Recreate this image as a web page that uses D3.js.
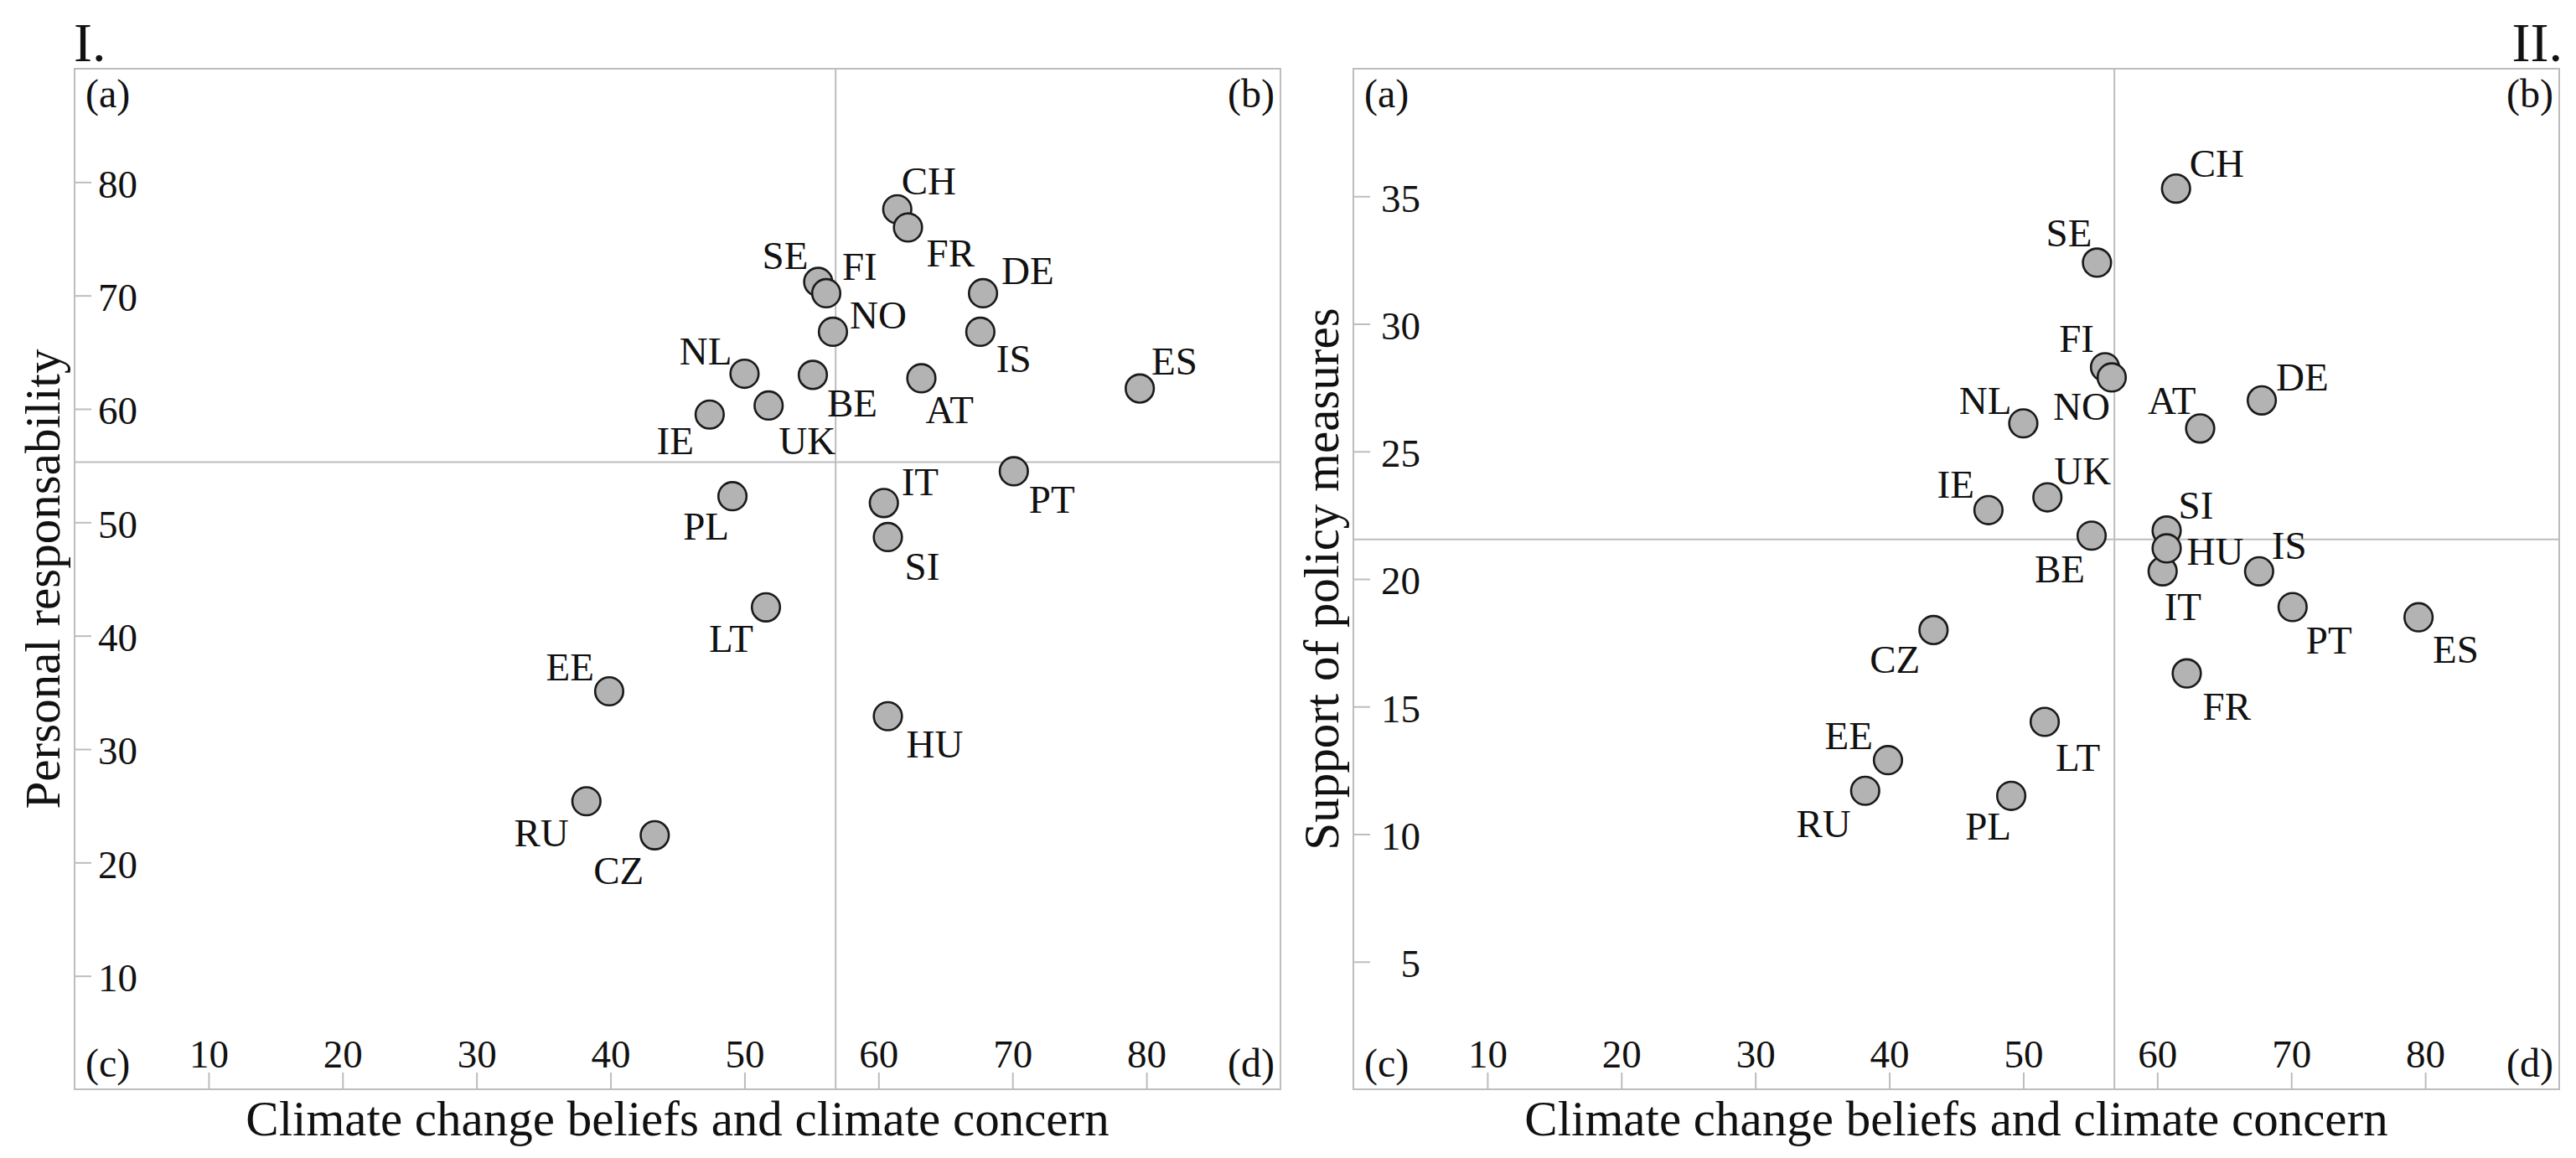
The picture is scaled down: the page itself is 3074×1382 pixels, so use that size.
<!DOCTYPE html>
<html>
<head>
<meta charset="utf-8">
<script src="https://cdn.jsdelivr.net/npm/d3@7"></script>
<style>
  body { margin: 0; background: #ffffff; }
  text { font-family: "Liberation Serif", "Times New Roman", Times, serif; fill: #111; }
</style>
</head>
<body>
<svg id="chart" width="3074" height="1382"></svg>
<script>
// ---------------- DATA ----------------
const countries = ["CH","FR","SE","FI","DE","NO","IS","NL","BE","AT","ES","UK","IE","PT","PL","IT","SI","LT","EE","HU","RU","CZ"];
const climateConcern = [61.4,62.2,55.5,56.1,67.8,56.6,67.6,50.0,55.1,63.2,79.5,51.8,47.4,70.1,49.1,60.4,60.7,51.6,39.9,60.7,38.2,43.3];
const personalResponsibility = [77.6,76.0,71.2,70.2,70.2,66.8,66.8,63.1,63.0,62.7,61.8,60.3,59.5,54.5,52.3,51.7,48.7,42.5,35.1,32.9,25.4,22.4];
const policySupport = [35.3,16.3,32.4,28.3,27.0,27.9,20.3,26.1,21.7,25.9,18.5,23.2,22.7,18.9,11.5,20.3,21.9,14.4,12.9,21.2,11.7,18.0];

const xTicks = [10,20,30,40,50,60,70,80];
const yTicksI = [10,20,30,40,50,60,70,80];
const yTicksII = [5,10,15,20,25,30,35];

const xMean = 56.8;          // vertical divider (climate concern)
const yMeanI = 55.3;         // horizontal divider panel I
const yMeanII = 21.55;       // horizontal divider panel II

const xTitle = "Climate change beliefs and climate concern";
const yTitleI = "Personal responsability";
const yTitleII = "Support of policy measures";
const panelNames = ["I.", "II."];
const quadrantLabels = ["(a)", "(b)", "(c)", "(d)"];

// label placement (layout only): [dx, dy(baseline), anchor]
const labelPlaceI = {
  CH:[5,-18,"start"], FR:[22,47,"start"], SE:[-12,-15,"end"], FI:[19,-16,"start"], DE:[22,-11,"start"],
  NO:[20,-4,"start"], IS:[19,48,"start"], NL:[-15,-11,"end"], BE:[17,50,"start"], AT:[5,54,"start"],
  ES:[14,-17,"start"], UK:[12,58,"start"], IE:[-19,47,"end"], PT:[18,50,"start"], PL:[-4,52,"end"],
  IT:[21,-9,"start"], SI:[20,51,"start"], LT:[-15,53,"end"], EE:[-18,-13,"end"], HU:[22,49,"start"],
  RU:[-21,54,"end"], CZ:[-13,58,"end"]
};
const labelPlaceII = {
  CH:[16,-14,"start"], SE:[-6,-19,"end"], FI:[-13,-18,"end"], NO:[-2,51,"end"], NL:[-14,-11,"end"],
  AT:[-5,-17,"end"], DE:[17,-12,"start"], UK:[8,-16,"start"], IE:[-17,-15,"end"], BE:[-8,56,"end"],
  SI:[14,-14,"start"], HU:[24,20,"start"], IS:[15,-15,"start"], IT:[2,58,"start"], PT:[16,56,"start"],
  ES:[17,54,"start"], CZ:[-16,51,"end"], FR:[19,55,"start"], LT:[13,58,"start"], EE:[-18,-13,"end"],
  RU:[-17,55,"end"], PL:[0,52,"end"]
};

// ---------------- DRAW ----------------
const svg = d3.select("#chart");
svg.append("rect").attr("width", 3074).attr("height", 1382).attr("fill", "#fff");

const gridColor = "#bdbdbd";

function drawPanel(cfg) {
  const { left, right, top, bottom, yVals, yDomain, yTicks, yMean, yTitle, name, nameAnchor, labelPlace, yLabelEnd } = cfg;
  const x = d3.scaleLinear().domain([0, 90]).range([left, right]);
  const y = d3.scaleLinear().domain(yDomain).range([bottom, top]);
  const g = svg.append("g");

  // frame
  g.append("rect").attr("x", left).attr("y", top).attr("width", right - left).attr("height", bottom - top)
    .attr("fill", "none").attr("stroke", gridColor).attr("stroke-width", 2);

  // dividers
  g.append("line").attr("x1", x(xMean)).attr("x2", x(xMean)).attr("y1", top).attr("y2", bottom)
    .attr("stroke", gridColor).attr("stroke-width", 2);
  g.append("line").attr("x1", left).attr("x2", right).attr("y1", y(yMean)).attr("y2", y(yMean))
    .attr("stroke", gridColor).attr("stroke-width", 2);

  // x axis (inside, ticks upward)
  const xa = g.append("g").attr("transform", `translate(0,${bottom})`)
    .call(d3.axisTop(x).tickValues(xTicks).tickSize(20).tickPadding(6).tickFormat(d3.format("d")));
  xa.select(".domain").remove();
  xa.selectAll(".tick line").attr("stroke", gridColor).attr("stroke-width", 2);
  xa.selectAll(".tick text").attr("font-size", 47).attr("fill", "#111")
    .style("font-family", '"Liberation Serif", "Times New Roman", serif');

  // y axis (inside, ticks rightward)
  const ya = g.append("g").attr("transform", `translate(${left},0)`)
    .call(d3.axisRight(y).tickValues(yTicks).tickSize(20).tickFormat(d3.format("d")));
  ya.select(".domain").remove();
  ya.selectAll(".tick line").attr("stroke", gridColor).attr("stroke-width", 2);
  ya.selectAll(".tick text").attr("font-size", 47).attr("fill", "#111")
    .attr("text-anchor", "end").attr("x", yLabelEnd).attr("dy", "0.38em")
    .style("font-family", '"Liberation Serif", "Times New Roman", serif');

  // quadrant labels
  g.append("text").attr("x", left + 13).attr("y", top + 46).attr("font-size", 48).text(quadrantLabels[0]);
  g.append("text").attr("x", right - 7).attr("y", top + 46).attr("font-size", 48).attr("text-anchor", "end").text(quadrantLabels[1]);
  g.append("text").attr("x", left + 13).attr("y", bottom - 15).attr("font-size", 48).text(quadrantLabels[2]);
  g.append("text").attr("x", right - 7).attr("y", bottom - 15).attr("font-size", 48).attr("text-anchor", "end").text(quadrantLabels[3]);

  // panel name
  g.append("text").attr("x", nameAnchor === "start" ? left - 1 : right + 4).attr("y", 73)
    .attr("font-size", 66).attr("text-anchor", nameAnchor).text(name);

  // axis titles
  g.append("text").attr("x", (left + right) / 2).attr("y", 1355).attr("font-size", 59)
    .attr("text-anchor", "middle").text(xTitle);
  g.append("text").attr("transform", `translate(${left - 18},${(top + bottom) / 2}) rotate(-90)`)
    .attr("font-size", 59).attr("text-anchor", "middle").text(yTitle);

  // points
  const pts = countries.map((c, i) => ({ c, x: climateConcern[i], y: yVals[i] }));
  g.append("g").selectAll("circle").data(pts).join("circle")
    .attr("cx", d => x(d.x)).attr("cy", d => y(d.y)).attr("r", 16.8)
    .attr("fill", "#b3b3b3").attr("stroke", "#1a1a1a").attr("stroke-width", 2.6);

  g.append("g").selectAll("text").data(pts).join("text")
    .attr("x", d => x(d.x) + labelPlace[d.c][0])
    .attr("y", d => y(d.y) + labelPlace[d.c][1])
    .attr("text-anchor", d => labelPlace[d.c][2])
    .attr("font-size", 47)
    .text(d => d.c);
}

drawPanel({ left: 89, right: 1528, top: 82, bottom: 1300, yVals: personalResponsibility, yDomain: [0, 90],
  yTicks: yTicksI, yMean: yMeanI, yTitle: yTitleI, name: panelNames[0], nameAnchor: "start",
  labelPlace: labelPlaceI, yLabelEnd: 75 });
drawPanel({ left: 1615, right: 3054, top: 82, bottom: 1300, yVals: policySupport, yDomain: [0, 40],
  yTicks: yTicksII, yMean: yMeanII, yTitle: yTitleII, name: panelNames[1], nameAnchor: "end",
  labelPlace: labelPlaceII, yLabelEnd: 80 });
</script>
</body>
</html>
